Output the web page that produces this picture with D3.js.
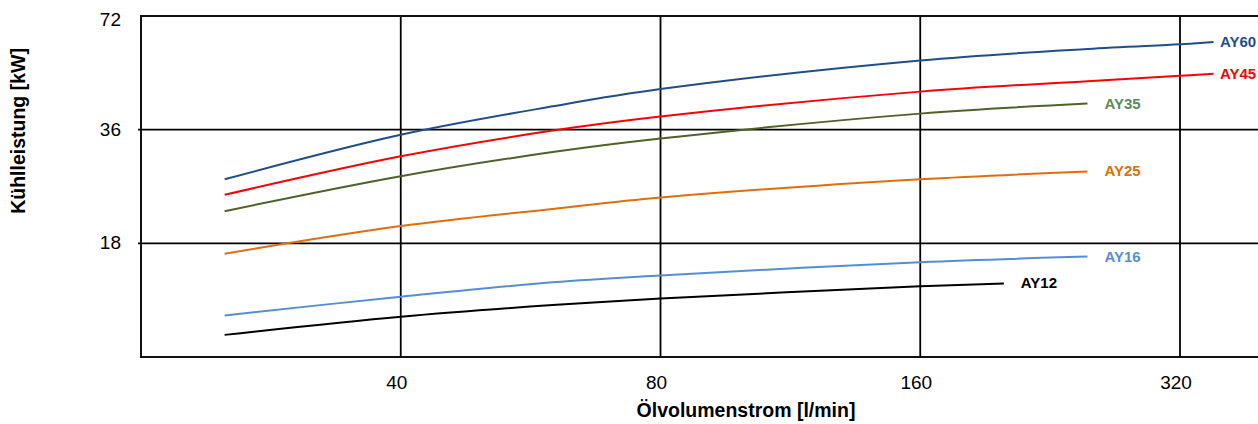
<!DOCTYPE html>
<html>
<head>
<meta charset="utf-8">
<script src="https://cdn.jsdelivr.net/npm/d3@7"></script>
<style>
  body { margin: 0; background: #fff; }
  text { font-family: Arial, "Liberation Sans", sans-serif; }
</style>
</head>
<body>
<script>
// flow rate [l/min] sample points
var flow = [25, 40, 60, 80, 160, 250, 320, 350];

var names  = ["AY60", "AY45", "AY35", "AY25", "AY16", "AY12"];
var ay60 = [26.6, 34.9, 41.5, 46.1, 54.9, 58.9, 60.6, 61.4];
var ay45 = [24.2, 30.6, 35.8, 39.0, 45.4, 48.4, 50.0, 50.6];
var ay35 = [21.9, 27.1, 31.4, 34.1, 39.7, 42.2];
var ay25 = [16.9, 20.0, 22.2, 23.8, 26.6, 27.9];
var ay16 = [11.6, 13.0, 14.2, 14.8, 16.05, 16.6];
var ay12 = [10.3, 11.5, 12.35, 12.85, 13.85, 14.1];
var ay12Flow = [25, 40, 60, 80, 160, 200];

var xTicks = [40, 80, 160, 320];
var yTicks = [18, 36, 72];

var lineColors  = ["#1f4e8c", "#ff0000", "#4f6228", "#e46c0a", "#558ed5", "#000000"];
var labelColors = ["#1f4e8c", "#ff0000", "#5b8c5b", "#e46c0a", "#558ed5", "#000000"];

var W = 1258, H = 424;
var plotL = 141, plotT = 16, plotB = 357, plotR = 1258;

var x = d3.scaleLog().base(2).domain([20, 320]).range([plotL, 1180]);
var y = d3.scaleLog().base(2).domain([9, 72]).range([plotB, plotT]);

var series = [ay60, ay45, ay35, ay25, ay16, ay12].map(function(vals, i) {
  var fx = i === 5 ? ay12Flow : flow;
  return { name: names[i], pts: vals.map(function(v, j) { return [fx[j], v]; }) };
});

var svg = d3.select("body").append("svg")
  .attr("width", W).attr("height", H);

// horizontal grid
svg.append("g").selectAll("line")
  .data(yTicks.slice(0, 2))
  .enter().append("line")
  .attr("x1", plotL - 3).attr("x2", plotR)
  .attr("y1", function(d) { return y(d); })
  .attr("y2", function(d) { return y(d); })
  .attr("stroke", "#000").attr("stroke-width", 1.6);

// vertical grid
svg.append("g").selectAll("line")
  .data(xTicks)
  .enter().append("line")
  .attr("x1", function(d) { return x(d); })
  .attr("x2", function(d) { return x(d); })
  .attr("y1", plotT).attr("y2", plotB)
  .attr("stroke", "#000").attr("stroke-width", 1.8);

// frame
svg.append("path")
  .attr("d", "M" + plotR + "," + plotT + "H" + plotL + "V" + plotB + "H" + plotR)
  .attr("fill", "none").attr("stroke", "#111").attr("stroke-width", 2);

// tick labels
svg.append("g").selectAll("text")
  .data(xTicks)
  .enter().append("text")
  .attr("x", function(d) { return x(d) - 4; })
  .attr("y", 389)
  .attr("text-anchor", "middle")
  .attr("font-size", 19)
  .text(function(d) { return d; });

svg.append("g").selectAll("text")
  .data(yTicks)
  .enter().append("text")
  .attr("x", 121)
  .attr("y", function(d, i) { return y(d) + (i === 2 ? 10 : 6); })
  .attr("text-anchor", "end")
  .attr("font-size", 19)
  .text(function(d) { return d; });

// axis titles
svg.append("text")
  .attr("x", 746).attr("y", 417)
  .attr("text-anchor", "middle")
  .attr("font-size", 19.5).attr("font-weight", "bold")
  .text("Ölvolumenstrom [l/min]");

svg.append("text")
  .attr("transform", "translate(25,131) rotate(-90)")
  .attr("text-anchor", "middle")
  .attr("font-size", 19.5).attr("font-weight", "bold")
  .text("Kühlleistung [kW]");

// curves
var line = d3.line()
  .x(function(d) { return x(d[0]); })
  .y(function(d) { return y(d[1]); })
  .curve(d3.curveCatmullRom.alpha(0.5));

svg.append("g").selectAll("path")
  .data(series)
  .enter().append("path")
  .attr("d", function(d) { return line(d.pts); })
  .attr("fill", "none")
  .attr("stroke", function(d, i) { return lineColors[i]; })
  .attr("stroke-width", 2);

// end labels
svg.append("g").selectAll("text")
  .data(series)
  .enter().append("text")
  .attr("x", function(d) {
    var last = d.pts[d.pts.length - 1];
    return Math.min(x(last[0]) + 17, W - 38);
  })
  .attr("y", function(d) {
    var last = d.pts[d.pts.length - 1];
    return y(last[1]) + 5;
  })
  .attr("font-size", 15).attr("font-weight", "bold")
  .attr("fill", function(d, i) { return labelColors[i]; })
  .text(function(d) { return d.name; });
</script>
</body>
</html>
